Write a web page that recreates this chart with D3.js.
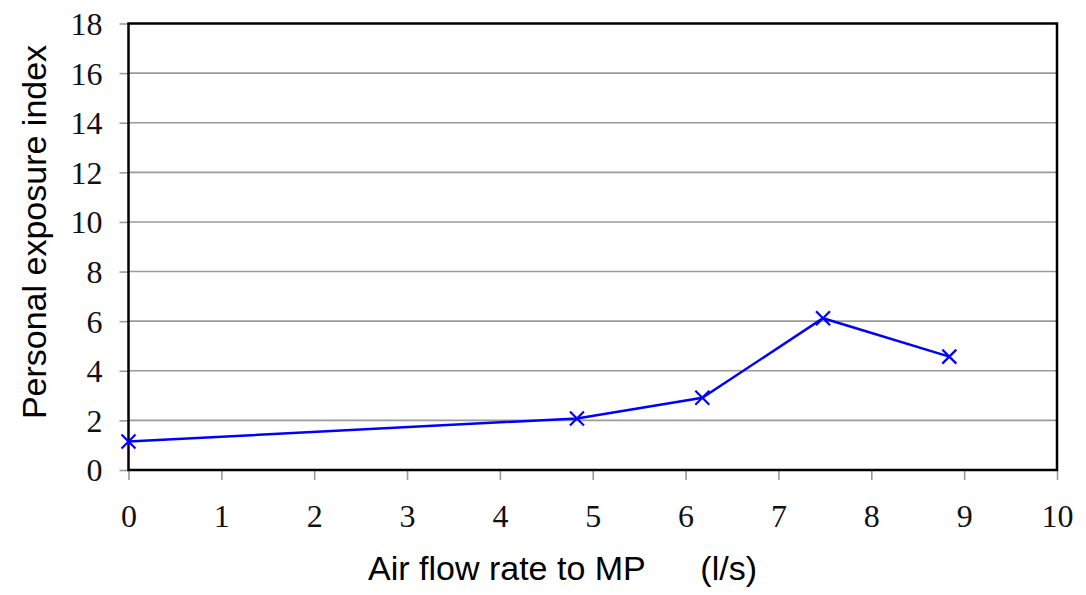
<!DOCTYPE html>
<html>
<head>
<meta charset="utf-8">
<script src="https://cdn.jsdelivr.net/npm/d3@7"></script>
<style>
  html, body { margin: 0; padding: 0; background: #fff; }
  svg { display: block; }
</style>
</head>
<body>
<svg id="chart" width="1086" height="595"></svg>
<script>
const airFlow = [0, 4.83, 6.18, 7.48, 8.84];
const exposure = [1.15, 2.08, 2.91, 6.12, 4.57];
const xTicks = [0, 1, 2, 3, 4, 5, 6, 7, 8, 9, 10];
const yTicks = [0, 2, 4, 6, 8, 10, 12, 14, 16, 18];
const xTitle = "Air flow rate to MP";
const xUnit = "(l/s)";
const yTitle = "Personal exposure index";

const svg = d3.select("#chart");
const m = { left: 128.5, right: 1057, top: 23.5, bottom: 470 };
const x = d3.scaleLinear().domain([0, 10]).range([m.left, m.right]);
const y = d3.scaleLinear().domain([0, 18]).range([m.bottom, m.top]);

// gridlines
svg.append("g").selectAll("line").data(yTicks.filter(d => d > 0 && d < 18)).join("line")
  .attr("x1", m.left).attr("x2", m.right)
  .attr("y1", d => y(d)).attr("y2", d => y(d))
  .attr("stroke", "#9a9a9a").attr("stroke-width", 1.6);

// y axis
const yAxis = svg.append("g").attr("transform", `translate(${m.left},0)`)
  .call(d3.axisLeft(y).tickValues(yTicks).tickSize(9).tickPadding(17).tickFormat(d3.format("d")));
yAxis.select(".domain").remove();
yAxis.selectAll(".tick line").attr("stroke", "#9a9a9a").attr("stroke-width", 1.6);
yAxis.selectAll("text").attr("font-family", "Liberation Serif, Times New Roman, serif")
  .attr("font-size", 32).attr("fill", "#111").attr("dy", "0.34em");

// x axis
const xAxis = svg.append("g").attr("transform", `translate(0,${m.bottom})`)
  .call(d3.axisBottom(x).tickValues(xTicks).tickSize(10).tickPadding(24).tickFormat(d3.format("d")));
xAxis.select(".domain").remove();
xAxis.selectAll(".tick line").attr("stroke", "#9a9a9a").attr("stroke-width", 1.6);
xAxis.selectAll("text").attr("font-family", "Liberation Serif, Times New Roman, serif")
  .attr("font-size", 32).attr("fill", "#111");

// frame
svg.append("rect").attr("x", m.left).attr("y", m.top)
  .attr("width", m.right - m.left).attr("height", m.bottom - m.top)
  .attr("fill", "none").attr("stroke", "#000").attr("stroke-width", 2.5);

// line
const pts = airFlow.map((d, i) => [d, exposure[i]]);
svg.append("path").datum(pts)
  .attr("d", d3.line().x(d => x(d[0])).y(d => y(d[1])))
  .attr("fill", "none").attr("stroke", "#0000ff").attr("stroke-width", 2.5);

// markers
const s = 7;
svg.append("g").selectAll("path").data(pts).join("path")
  .attr("d", d => {
    const cx = x(d[0]), cy = y(d[1]);
    return `M${cx - s},${cy - s}L${cx + s},${cy + s}M${cx - s},${cy + s}L${cx + s},${cy - s}`;
  })
  .attr("stroke", "#0000ff").attr("stroke-width", 2.2).attr("fill", "none");

// titles
svg.append("text").attr("x", 368).attr("y", 580)
  .attr("font-family", "Liberation Sans, Arial, sans-serif").attr("font-size", 34).attr("fill", "#000")
  .text(xTitle);
svg.append("text").attr("x", 757).attr("y", 580).attr("text-anchor", "end")
  .attr("font-family", "Liberation Sans, Arial, sans-serif").attr("font-size", 34).attr("fill", "#000")
  .text(xUnit);
svg.append("text").attr("transform", "translate(46,232) rotate(-90)").attr("text-anchor", "middle")
  .attr("font-family", "Liberation Sans, Arial, sans-serif").attr("font-size", 34).attr("fill", "#000")
  .text(yTitle);
</script>
</body>
</html>
